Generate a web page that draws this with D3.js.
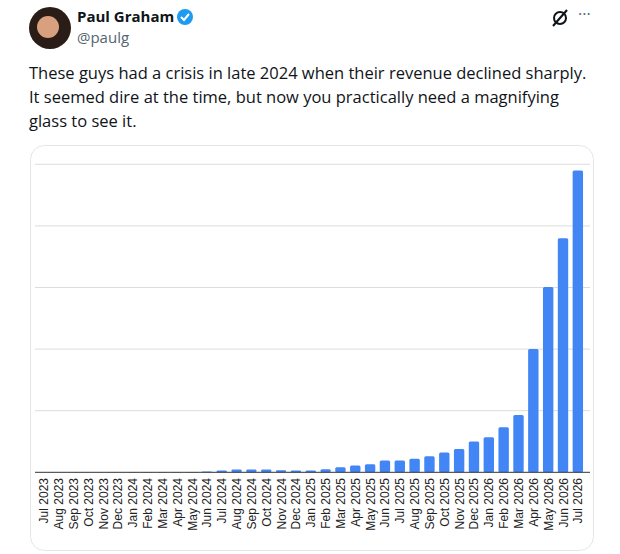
<!DOCTYPE html>
<html><head><meta charset="utf-8">
<script src="https://cdn.jsdelivr.net/npm/d3@7"></script>
<style>body{margin:0;background:#fff;font-family:"Open Sans",Arial,sans-serif}</style>
</head><body><svg id="c" width="620" height="554"></svg>
<script>
const months = ["Jul 2023","Aug 2023","Sep 2023","Oct 2023","Nov 2023","Dec 2023","Jan 2024","Feb 2024","Mar 2024","Apr 2024","May 2024","Jun 2024","Jul 2024","Aug 2024","Sep 2024","Oct 2024","Nov 2024","Dec 2024","Jan 2025","Feb 2025","Mar 2025","Apr 2025","May 2025","Jun 2025","Jul 2025","Aug 2025","Sep 2025","Oct 2025","Nov 2025","Dec 2025","Jan 2026","Feb 2026","Mar 2026","Apr 2026","May 2026","Jun 2026","Jul 2026"];
const revenue = [0,0,0,0,0,0,0.005,0.005,0.005,0.005,0.006,0.015,0.03,0.045,0.045,0.045,0.035,0.03,0.03,0.05,0.08,0.11,0.13,0.19,0.19,0.22,0.26,0.32,0.38,0.50,0.57,0.73,0.93,2.0,3.01,3.80,4.90];
const gridTicks = [0,1,2,3,4,5];
const tweetLines = ["These guys had a crisis in late 2024 when their revenue declined sharply.","It seemed dire at the time, but now you practically need a magnifying","glass to see it."];

const svg = d3.select("#c");
svg.append("circle").attr("cx",50).attr("cy",28).attr("r",21).attr("fill","#2a1d17");
svg.append("circle").attr("cx",48).attr("cy",27).attr("r",11).attr("fill","#d9a07f");
svg.append("text").attr("x",77).attr("y",22).attr("font-size",15).attr("font-weight","bold").attr("fill","#0f1419").text("Paul Graham");
svg.append("circle").attr("cx",185).attr("cy",17).attr("r",8).attr("fill","#1d9bf0");
svg.append("path").attr("d","M181 17 l3 3 l5 -6").attr("stroke","#fff").attr("stroke-width",2).attr("fill","none");
svg.append("text").attr("x",77).attr("y",43).attr("font-size",15).attr("fill","#536471").text("@paulg");
svg.append("circle").attr("cx",560).attr("cy",18).attr("r",6).attr("fill","none").attr("stroke","#0f1419").attr("stroke-width",2);
svg.append("line").attr("x1",553).attr("y1",26).attr("x2",567).attr("y2",10).attr("stroke","#0f1419").attr("stroke-width",2);
svg.append("text").attr("x",578).attr("y",20).attr("font-size",16).attr("fill","#536471").text("···");
svg.selectAll(".tl").data(tweetLines).join("text").attr("x",29).attr("y",(d,i)=>79+i*24)
  .attr("font-size",16.5).attr("fill","#0f1419").text(d=>d);
svg.append("rect").attr("x",30.5).attr("y",145.5).attr("width",563).attr("height",405).attr("rx",14)
  .attr("fill","#fff").attr("stroke","#e3e6e8");

const x = d3.scaleBand().domain(months).range([35.5,586]).paddingInner(0.3).paddingOuter(0.2);
const y = d3.scaleLinear().domain([0,5]).range([472.3,164.3]);
const g = svg.append("g");
g.selectAll(".gr").data(gridTicks.slice(1)).join("line").attr("x1",35).attr("x2",590)
  .attr("y1",d=>y(d)).attr("y2",d=>y(d)).attr("stroke","#dcdcdc");
g.selectAll(".bar").data(revenue).join("rect")
  .attr("x",(d,i)=>x(months[i])).attr("width",x.bandwidth())
  .attr("y",d=>y(d)).attr("height",d=>y(0)-y(d)).attr("rx",1.5).attr("fill","#4285f4");
g.append("line").attr("x1",35).attr("x2",590).attr("y1",y(0)).attr("y2",y(0)).attr("stroke","#333");
g.selectAll(".lab").data(months).join("text")
  .attr("transform",d=>`translate(${x(d)+x.bandwidth()/2+4.5},478) rotate(-90)`)
  .attr("text-anchor","end").attr("font-size",12).attr("font-family","Liberation Sans, Arial").attr("fill","#222").text(d=>d);
</script></body></html>
